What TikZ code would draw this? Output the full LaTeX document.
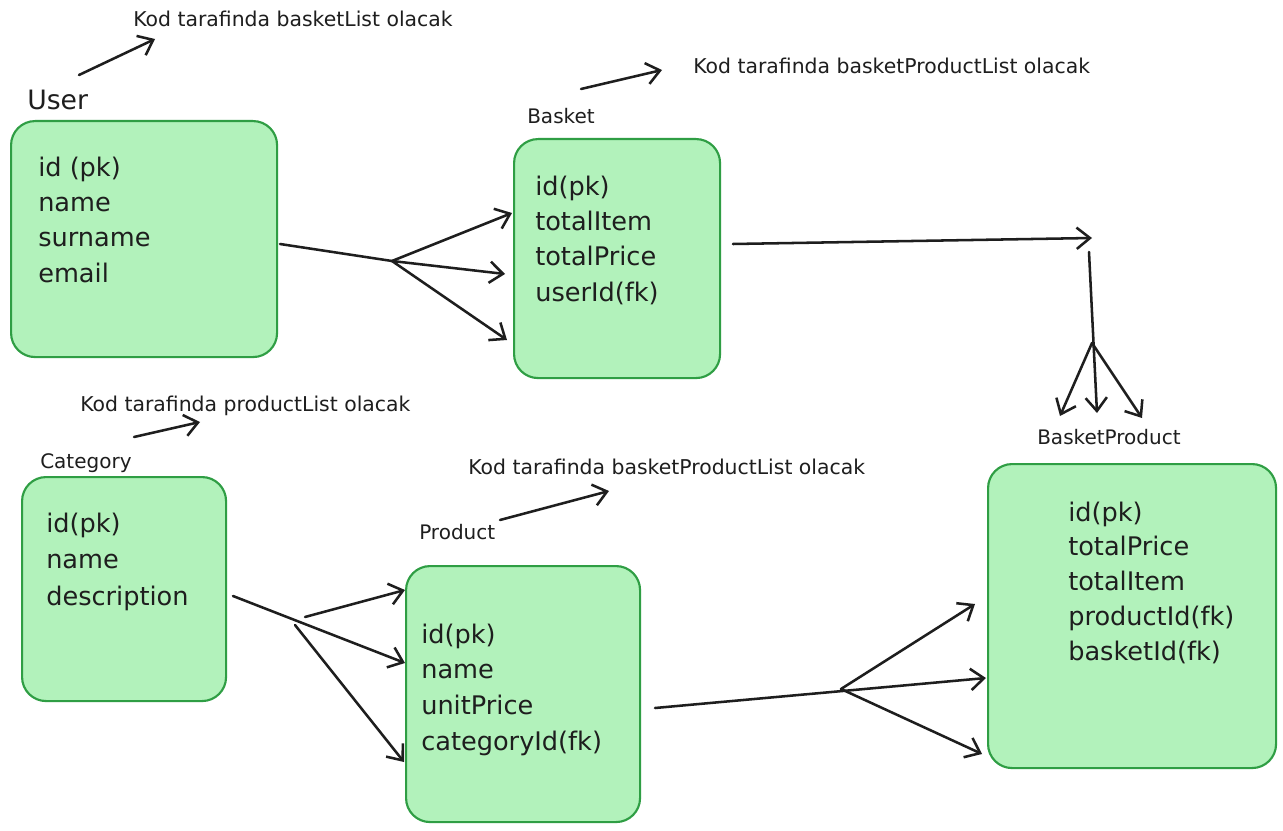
\documentclass[tikz,border=0pt]{standalone}
\usepackage{fontspec}
\setmainfont{DejaVu Sans}
\usetikzlibrary{arrows.meta}
\definecolor{boxfill}{HTML}{B2F2BB}
\definecolor{boxline}{HTML}{2F9E44}
\definecolor{ink}{HTML}{1E1E1E}
\tikzset{
  entity/.style={draw=boxline, fill=boxfill, line width=1.6pt, rounded corners=18pt,
    anchor=north west, inner sep=0pt},
  field/.style={anchor=base west, inner sep=0pt, text=ink, font=\fontsize{19.2}{23}\selectfont},
  title/.style={anchor=base west, inner sep=0pt, text=ink, font=\fontsize{15}{18}\selectfont},
  note/.style={anchor=base west, inner sep=0pt, text=ink, font=\fontsize{15.3}{18}\selectfont},
  link/.style={draw=ink, line width=1.9pt, line cap=round},
  arr/.style={link, -{Straight Barb[length=10pt,width=16pt]}},
}
\begin{document}
\begin{tikzpicture}[x=0.75pt,y=-0.75pt]
\fill[white] (0,0) rectangle (1283,831);
\useasboundingbox (0,0) rectangle (1283,831);

% entity boxes
\node[entity, minimum width=199.5pt, minimum height=177pt]    (user)     at (10,120)  {};
\node[entity, minimum width=154.5pt, minimum height=179.25pt] (basket)   at (513,138) {};
\node[entity, minimum width=153pt,   minimum height=168pt]    (category) at (21,476)  {};
\node[entity, minimum width=175.5pt, minimum height=192pt]    (product)  at (405,565) {};
\node[entity, minimum width=216pt,   minimum height=228pt]    (bproduct) at (987,463) {};

% entity titles
\node[anchor=base west, inner sep=0pt, text=ink, font=\fontsize{20}{24}\selectfont] (userT) at (27,110) {User};
\node[title] (basketT)   at (527,124) {Basket};
\node[title] (categoryT) at (40,468)  {Category};
\node[title] (productT)  at (419,539) {Product};
\node[title] (bproductT) at (1037,444) {BasketProduct};

% fields
\foreach \t [count=\i] in {id (pk), name, surname, email}
  \node[field] (userF\i) at (38, 142+35*\i) {\t};
\foreach \t [count=\i] in {id(pk), totalItem, totalPrice, userId(fk)}
  \node[field] (basketF\i) at (535, 160+35.3*\i) {\t};
\foreach \t [count=\i] in {id(pk), name, description}
  \node[field] (categoryF\i) at (46, 495.5+36.5*\i) {\t};
\foreach \t [count=\i] in {id(pk), name, unitPrice, categoryId(fk)}
  \node[field] (productF\i) at (421, 607.3+35.7*\i) {\t};
\foreach \t [count=\i] in {id(pk), totalPrice, totalItem, productId(fk), basketId(fk)}
  \node[field] (bproductF\i) at (1068, 486.25+34.75*\i) {\t};

% notes
\node[note] (noteUser)     at (133,27)  {Kod tarafinda basketList olacak};
\node[note] (noteBasket)   at (693,74)  {Kod tarafinda basketProductList olacak};
\node[note] (noteCategory) at (80,411)  {Kod tarafinda productList olacak};
\node[note] (noteProduct)  at (468,474) {Kod tarafinda basketProductList olacak};

% note pointers
\coordinate (nu1) at (79,75);   \coordinate (nu2) at (155,39);
\coordinate (nb1) at (581,89);  \coordinate (nb2) at (662,70);
\coordinate (nc1) at (134,437); \coordinate (nc2) at (200,422);
\coordinate (np1) at (500,520); \coordinate (np2) at (609,491);
\draw[arr] (nu1) -- (nu2);
\draw[arr] (nb1) -- (nb2);
\draw[arr] (nc1) -- (nc2);
\draw[arr] (np1) -- (np2);

% User -> Basket (one to many)
\coordinate (uOut)  at (280,244);
\coordinate (uFork) at (392,261);
\coordinate (bIn1)  at (512,213);
\coordinate (bIn2)  at (505,274);
\coordinate (bIn3)  at (507,340);
\draw[link] (uOut) -- (uFork);
\draw[arr] (uFork) -- (bIn1);
\draw[arr] (uFork) -- (bIn2);
\draw[arr] (uFork) -- (bIn3);

% Basket -> BasketProduct (one to many)
\coordinate (bOut)  at (733,244);
\coordinate (bTurn) at (1092,238);
\coordinate (vTop)  at (1089,252);
\coordinate (vFork) at (1092,343);
\coordinate (bpIn1) at (1060,416);
\coordinate (bpIn2) at (1097,413);
\coordinate (bpIn3) at (1142,418);
\draw[arr] (bOut) -- (bTurn);
\draw[arr] (vTop) -- (bpIn2);
\draw[arr] (vFork) -- (bpIn1);
\draw[arr] (vFork) -- (bpIn3);

% Category -> Product (one to many)
\coordinate (cOut)   at (233,596);
\coordinate (cFork1) at (305,617);
\coordinate (cFork2) at (295,625);
\coordinate (pIn1)   at (405,590);
\coordinate (pIn2)   at (405,663);
\coordinate (pIn3)   at (404,762);
\draw[arr] (cOut) -- (pIn2);
\draw[arr] (cFork1) -- (pIn1);
\draw[arr] (cFork2) -- (pIn3);

% Product -> BasketProduct (one to many)
\coordinate (pOut)   at (655,708);
\coordinate (pFork)  at (841,689);
\coordinate (bpL1)   at (975,604);
\coordinate (bpL2)   at (986,678);
\coordinate (bpL3)   at (982,754);
\draw[arr] (pOut) -- (bpL2);
\draw[arr] (pFork) -- (bpL1);
\draw[arr] (pFork) -- (bpL3);
\end{tikzpicture}
\end{document}
